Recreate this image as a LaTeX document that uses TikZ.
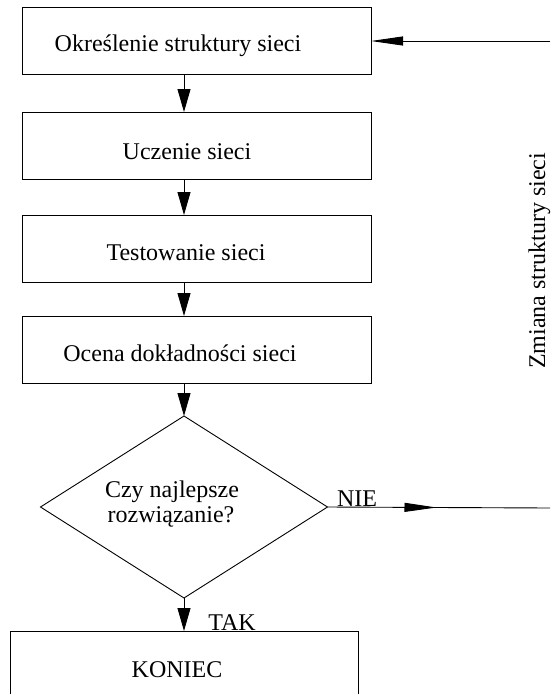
\documentclass[tikz,border=0pt]{standalone}
\usepackage{fontspec}
\setmainfont{Liberation Serif}
\usetikzlibrary{arrows.meta,shapes.geometric,decorations.markings}
\begin{document}
\begin{tikzpicture}[
  x=1pt,y=1pt,
  every node/.style={font=\fontsize{24}{25}\selectfont},
  box/.style={draw, rectangle, minimum width=349pt, minimum height=67pt,
    inner sep=0pt, outer sep=0pt, line width=0.9pt, anchor=north west},
  txt/.style={anchor=base, inner sep=0pt},
  conn/.style={line width=0.9pt},
  vtip/.style={-{Triangle[length=23pt,width=13pt]}},
  htip/.style={-{Triangle[length=32pt,width=9pt]}}
]
\useasboundingbox (0,0) rectangle (550,-694);
\clip (0,0) rectangle (550,-694);

\node[box] (b1) at (22,-7) {};
\node[box] (b2) at (22,-112) {};
\node[box, minimum height=67pt] (b3) at (22,-215) {};
\node[box] (b4) at (22,-316) {};
\node[draw, diamond, minimum width=287pt, minimum height=182pt, inner sep=0pt,
  outer sep=0pt, line width=0.9pt] (d) at (184,-507) {};
\node[box, minimum width=348pt, minimum height=120pt] (k) at (10,-631) {};

\node[txt] (t1) at (178,-51) {Określenie struktury sieci};
\node[txt] (t2) at (187,-159) {Uczenie sieci};
\node[txt] (t3) at (186,-260) {Testowanie sieci};
\node[txt] (t4) at (180,-361) {Ocena dokładności sieci};
\node[txt] (t5) at (172,-497) {Czy najlepsze};
\node[txt] (t6) at (171,-522) {rozwiązanie?};
\node[txt] (t7) at (177,-677) {KONIEC};
\node[txt] (tak) at (232,-630) {TAK};
\node[txt] (nie) at (357,-506) {NIE};
\node[txt, rotate=90] (zm) at (545,-261) {Zmiana struktury sieci};

\coordinate (r1) at (550,-41);
\coordinate (r2) at (550,-508);

\draw[conn, vtip] (b1.south -| d.north) -- (b2.north -| d.north);
\draw[conn, vtip] (b2.south -| d.north) -- (b3.north -| d.north);
\draw[conn, vtip] (b3.south -| d.north) -- (b4.north -| d.north);
\draw[conn, vtip] (b4.south -| d.north) -- (d.north);
\draw[conn, vtip] (d.south) -- (k.north -| d.south);
\draw[conn, htip] (r1) -- (b1.east |- r1);
\draw[conn, postaction={decorate}, decoration={markings,
  mark=at position 109pt with {\arrow{Triangle[length=32pt,width=9pt]}}}]
  (d.east) -- (r2);
\end{tikzpicture}
\end{document}
